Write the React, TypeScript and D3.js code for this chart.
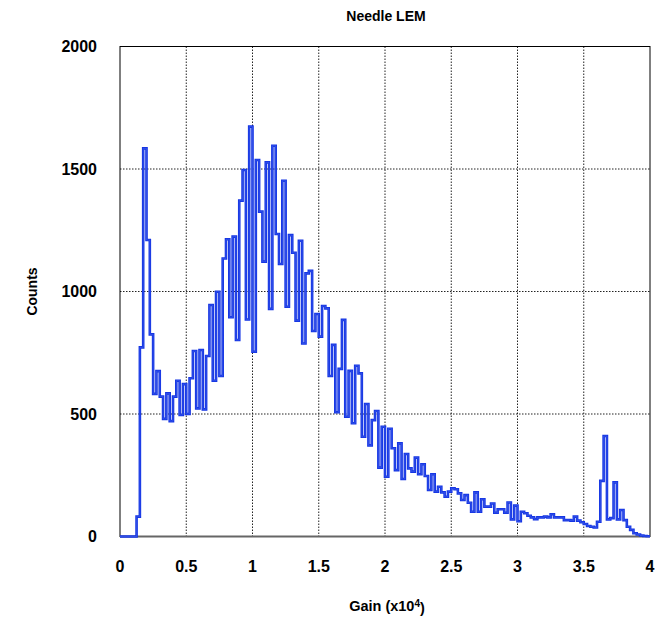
import React from "react";
import * as d3 from "d3";

const title = "Needle LEM";
const xTicks = [0, 0.5, 1, 1.5, 2, 2.5, 3, 3.5, 4];
const yTicks = [0, 500, 1000, 1500, 2000];
const binWidth = 0.025;

// Counts per 0.025 bin, gain 0 – 1 (x10^4)
const counts0 = [
  0, 0, 0, 0, 0, 81, 772, 1584, 1210, 825,
  582, 675, 571, 480, 584, 471, 571, 636, 496, 622,
  500, 646, 757, 523, 761, 519, 737, 945, 636, 999,
  655, 1135, 1213, 895, 1224, 802, 1371, 1496, 886, 1673,
];
// gain 1 – 2
const counts1 = [
  754, 1537, 1326, 1122, 1527, 929, 1595, 1235, 1112, 1452,
  938, 1230, 1158, 881, 1207, 788, 1074, 1084, 839, 908,
  816, 941, 931, 655, 782, 507, 684, 884, 489, 676,
  462, 697, 666, 407, 541, 372, 475, 512, 281, 448,
];
// gain 2 – 3
const counts2 = [
  244, 440, 360, 271, 380, 235, 337, 278, 265, 322,
  254, 295, 247, 190, 254, 183, 203, 180, 162, 183,
  197, 193, 176, 149, 169, 138, 101, 180, 101, 152,
  122, 122, 135, 97, 111, 111, 97, 139, 70, 126,
];
// gain 3 – 4
const counts3 = [
  62, 101, 95, 85, 78, 71, 78, 78, 81, 78,
  91, 78, 78, 78, 67, 67, 65, 81, 65, 58,
  51, 43, 40, 37, 60, 227, 410, 70, 75, 221,
  70, 108, 67, 40, 27, 13, 8, 4, 2, 1,
];

const counts = [...counts0, ...counts1, ...counts2, ...counts3];

const W = 655;
const H = 621;
const left = 120;
const right = 650;
const top = 46.5;
const bottom = 536.5;
const font = "'Liberation Sans', Arial, Helvetica, sans-serif";

export default function App() {
  const x = d3.scaleLinear().domain([0, 4]).range([left, right]);
  const y = d3.scaleLinear().domain([0, 2000]).range([bottom, top]);

  const pts: [number, number][] = counts.map((c, i) => [i * binWidth, c]);
  pts.push([4, counts[counts.length - 1]]);
  const line = d3
    .line<[number, number]>()
    .x((d) => x(d[0]))
    .y((d) => y(d[1]))
    .curve(d3.curveStepAfter);
  const d = line(pts) || "";

  return (
    <svg
      width={W}
      height={H}
      style={{ position: "absolute", left: 0, top: 0, background: "#fff" }}
    >
      <rect x={0} y={0} width={W} height={H} fill="#fff" />
      {/* grid */}
      {xTicks.slice(1, -1).map((t) => (
        <line
          key={"gx" + t}
          x1={x(t)}
          x2={x(t)}
          y1={top}
          y2={bottom}
          stroke="#222"
          strokeWidth={1}
          strokeDasharray="1.5,1.5"
        />
      ))}
      {yTicks.slice(1, -1).map((t) => (
        <line
          key={"gy" + t}
          x1={left}
          x2={right}
          y1={y(t)}
          y2={y(t)}
          stroke="#222"
          strokeWidth={1}
          strokeDasharray="1.5,1.5"
        />
      ))}
      {/* frame */}
      <rect
        x={left}
        y={top}
        width={right - left}
        height={bottom - top}
        fill="none"
        stroke="#000"
        strokeWidth={1}
      />
      <line x1={left} x2={right} y1={bottom} y2={bottom} stroke="#666" strokeWidth={2} />
      {/* histogram */}
      <path d={d} fill="none" stroke="#1434e4" strokeWidth={2.6} strokeLinejoin="miter" />
      <path d={d} fill="none" stroke="#6f8cf0" strokeWidth={0.5} strokeOpacity={0.6} />
      {/* tick labels */}
      {yTicks.map((t) => (
        <text
          key={"ty" + t}
          x={97}
          y={y(t)}
          dy="0.35em"
          textAnchor="end"
          fontFamily={font}
          fontWeight="bold"
          fontSize={16}
        >
          {t}
        </text>
      ))}
      {xTicks.map((t) => (
        <text
          key={"tx" + t}
          x={x(t)}
          y={566}
          dy="0.35em"
          textAnchor="middle"
          fontFamily={font}
          fontWeight="bold"
          fontSize={16}
        >
          {t}
        </text>
      ))}
      <text
        x={386}
        y={16}
        dy="0.35em"
        textAnchor="middle"
        fontFamily={font}
        fontWeight="bold"
        fontSize={14}
      >
        {title}
      </text>
      <text
        transform={`translate(32,${(top + bottom) / 2}) rotate(-90)`}
        dy="0.35em"
        textAnchor="middle"
        fontFamily={font}
        fontWeight="bold"
        fontSize={14}
      >
        Counts
      </text>
      <text
        x={387}
        y={606}
        dy="0.35em"
        textAnchor="middle"
        fontFamily={font}
        fontWeight="bold"
        fontSize={14.5}
      >
        Gain (x10
        <tspan dy="-0.45em" fontSize={10}>
          4
        </tspan>
        <tspan dy="0.45em">)</tspan>
      </text>
    </svg>
  );
}
